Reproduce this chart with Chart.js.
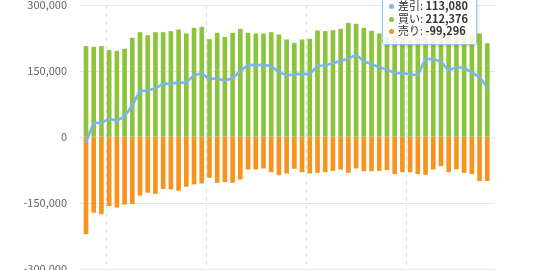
<!DOCTYPE html>
<html><head><meta charset="utf-8">
<script src="https://cdn.jsdelivr.net/npm/chart.js@4.4.1/dist/chart.umd.min.js"></script>
<style>
html,body{margin:0;padding:0;background:#fff;overflow:hidden;width:550px;height:270px;}
#wrap{position:absolute;left:0;top:-20px;width:550px;height:320px;}
#tip{position:absolute;left:382px;top:-9px;display:inline-block;padding:7px 8px 7px 6px;
 background:rgba(255,255,255,0.86);border:1px solid #9cc4ea;border-radius:3px;
 box-shadow:1px 1px 3px rgba(0,0,0,0.15);font-family:"Noto Sans CJK JP","Noto Sans",sans-serif;
 font-size:11px;line-height:12.7px;color:#333;white-space:nowrap;}
#tip .dot{display:inline-block;width:5px;height:5px;border-radius:50%;margin:0 4px 1px 0;vertical-align:middle;}
#tip b{font-weight:700;}
</style></head><body>
<div id="wrap"><canvas id="c" width="550" height="320"></canvas></div>
<div id="tip"></div>
<script>
const weeks = [0,1,2,3,4,5,6,7,8,9,10,11,12,13,14,15,16,17,18,19,20,21,22,23,24,25,26,
  27,28,29,30,31,32,33,34,35,36,37,38,39,40,41,42,43,44,45,46,47,48,49,50,51,52];
const buy = [205800,204300,205800,196800,195300,199800,224700,237500,230700,237500,
  237500,239800,243500,234500,247300,249600,221700,236000,227000,236000,
  245000,236000,234500,234500,237500,232200,220900,213400,220900,222400,
  241300,239800,242000,245000,258600,256500,247300,240500,234500,227700,
  229200,224000,221700,223900,263200,250300,236800,230000,231500,237500,
  230700,234500,212376];
const sell = [-220200,-171200,-174900,-156100,-159800,-153100,-151600,-132700,-125900,-128200,
  -117600,-118400,-121400,-112300,-107100,-104800,-92000,-103300,-101800,-103300,
  -95800,-73100,-73100,-70900,-79200,-86000,-82200,-71600,-79200,-82200,
  -80700,-79200,-76200,-73100,-80700,-70900,-76900,-76900,-76200,-74600,
  -83700,-79200,-79200,-83700,-85200,-73100,-65600,-79200,-72400,-80700,
  -83700,-99500,-99296];
const net = [-12000,32500,32000,42000,36500,47000,71500,104800,105500,111000,
  120500,121800,123500,123500,140500,145000,131000,133500,127500,134000,
  149500,164000,163500,164000,160500,148500,139500,143000,143500,143000,
  161500,162500,168000,173000,178000,187000,172500,165500,158700,153100,
  145500,144800,142500,140200,178000,177200,171200,150800,159100,156800,
  147000,135500,113080];
const yTicks = [-300000,-150000,0,150000,300000];
const quarterLines = [2.72, 15.68, 28.63, 41.59];
const seriesNames = ['差引','買い','売り'];
const colors = {'差引':'#7cb5ec','買い':'#8cc43c','売り':'#f7931e'};
const tipIndex = 52;

const fmt = v => Math.round(v).toLocaleString('en-US');
const pts = arr => arr.map((v,i)=>({x:weeks[i], y:v}));

const chart = new Chart(document.getElementById('c'), {
  data: {
    datasets: [
      {type:'line', label:seriesNames[0], data:pts(net), borderColor:colors['差引'],
       backgroundColor:colors['差引'], borderWidth:2.6, pointRadius:0, pointHoverRadius:0,
       tension:0, order:0, borderJoinStyle:'round', borderCapStyle:'round'},
      {type:'bar', label:seriesNames[1], data:pts(buy), backgroundColor:colors['買い'],
       barThickness:4, grouped:false, order:1, borderWidth:0},
      {type:'bar', label:seriesNames[2], data:pts(sell), backgroundColor:colors['売り'],
       barThickness:4, grouped:false, order:2, borderWidth:0}
    ]
  },
  options: {
    responsive:false, animation:false,
    layout:{padding:{top:25,right:55,bottom:31,left:0}},
    plugins:{
      legend:{display:false},
      tooltip:{enabled:false, mode:'index', intersect:false,
        external: ({tooltip}) => {
          const el = document.getElementById('tip');
          if (!tooltip.dataPoints || !tooltip.dataPoints.length) return;
          el.innerHTML = tooltip.dataPoints.map(dp =>
            '<div><span class="dot" style="background:'+colors[dp.dataset.label]+'"></span>'+
            dp.dataset.label+': <b>'+fmt(dp.parsed.y)+'</b></div>').join('');
        }}
    },
    scales:{
      x:{type:'linear', min:-0.777, max:53.0, offset:false,
        afterBuildTicks: s => { s.ticks = quarterLines.map(v=>({value:v})); },
        ticks:{display:false},
        grid:{display:true, offset:false, color:'#dedede', lineWidth:1, drawTicks:false},
        border:{display:false, dash:[4,4]}
      },
      y:{min:-300000, max:300000,
        afterBuildTicks: s => { s.ticks = yTicks.map(v=>({value:v})); },
        afterFit: s => { s.width = 80; },
        ticks:{padding:13, color:'#666', font:{family:'"Noto Sans CJK JP", "Noto Sans", sans-serif', size:11},
          callback: v => fmt(v)},
        grid:{color:'#e6e6e6', lineWidth:1, drawTicks:false},
        border:{display:false}
      }
    }
  }
});
chart.tooltip.setActiveElements([
  {datasetIndex:0, index:tipIndex},
  {datasetIndex:1, index:tipIndex},
  {datasetIndex:2, index:tipIndex}
], {x: 480, y: 80});
chart.draw();
</script>
</body></html>
